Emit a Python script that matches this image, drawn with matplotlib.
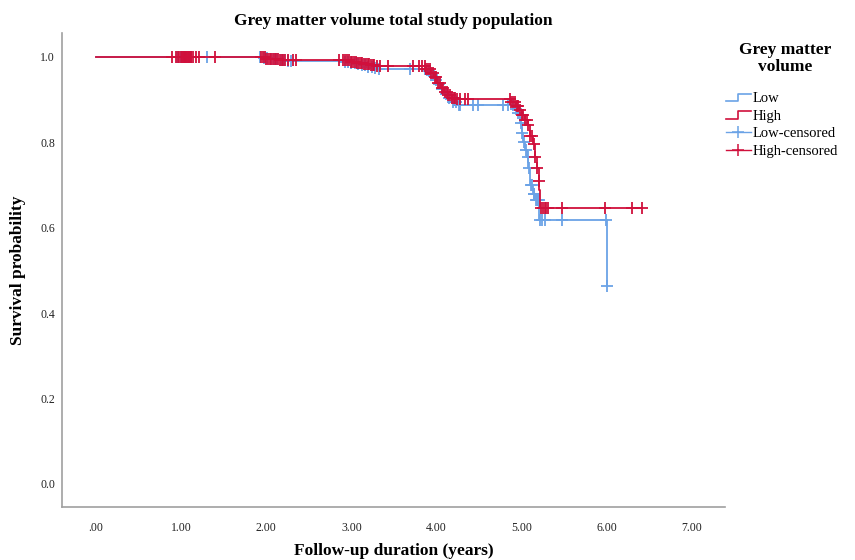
import numpy as np
import matplotlib
matplotlib.use("Agg")
import matplotlib.pyplot as plt
from matplotlib.lines import Line2D
from matplotlib.legend_handler import HandlerBase

plt.rcParams['font.family'] = ['Liberation Serif', 'DejaVu Serif']

# Kaplan-Meier steps: event times and survival after each event
low_times = [1.05, 1.95, 2.05, 2.15, 2.25, 2.90, 2.98, 3.05, 3.12, 3.18, 3.25, 3.32,
             3.88, 3.93, 3.97, 4.01, 4.05, 4.09, 4.13, 4.18, 4.24,
             4.92, 4.95, 4.98, 5.00, 5.02, 5.04, 5.06, 5.08, 5.10, 5.13, 5.16, 5.21, 6.00]
low_surv = [0.999, 0.997, 0.995, 0.993, 0.991, 0.989, 0.986, 0.983, 0.980, 0.977, 0.974, 0.972,
            0.966, 0.957, 0.947, 0.936, 0.924, 0.913, 0.903, 0.895, 0.888,
            0.878, 0.868, 0.845, 0.822, 0.800, 0.783, 0.766, 0.740, 0.700, 0.680, 0.665, 0.618, 0.464]

high_times = [1.08, 2.00, 2.15, 2.90, 2.98, 3.06, 3.14, 3.22, 3.30,
              3.88, 3.93, 3.97, 4.01, 4.05, 4.09, 4.13, 4.18, 4.24,
              4.88, 4.93, 4.97, 5.00, 5.04, 5.07, 5.10, 5.13, 5.16, 5.18, 5.20, 5.21, 5.22]
high_surv = [0.999, 0.996, 0.994, 0.992, 0.989, 0.986, 0.983, 0.980, 0.978,
             0.972, 0.963, 0.952, 0.940, 0.928, 0.918, 0.910, 0.904, 0.901,
             0.895, 0.885, 0.875, 0.865, 0.852, 0.840, 0.815, 0.795, 0.766, 0.740, 0.710, 0.688, 0.646]

# censored observations (times)
low_cens = [0.95, 1.00, 1.03, 1.06, 1.09, 1.12, 1.30, 1.93, 1.97, 2.01, 2.05, 2.09, 2.13, 2.17,
            2.21, 2.25, 2.29, 2.92, 2.96, 3.00, 3.04, 3.08, 3.12, 3.16, 3.20, 3.24, 3.28, 3.33,
            3.69, 3.87, 3.91, 3.95, 3.99, 4.03, 4.07, 4.11, 4.15, 4.19, 4.23, 4.26, 4.28, 4.43,
            4.49, 4.78, 4.84, 4.90, 4.93, 4.96, 4.99, 5.01, 5.03, 5.05, 5.07, 5.09, 5.11, 5.12,
            5.14, 5.15, 5.17, 5.18, 5.19, 5.20, 5.22, 5.24, 5.27, 5.47, 5.995, 6.005]
high_cens = [0.89, 0.94, 0.96, 0.98, 1.00, 1.01, 1.02, 1.03, 1.04, 1.05, 1.06, 1.07, 1.08, 1.09,
             1.10, 1.11, 1.12, 1.14, 1.17, 1.21, 1.40, 1.94, 1.96, 1.98, 2.00, 2.02, 2.04, 2.06,
             2.08, 2.10, 2.12, 2.14, 2.16, 2.18, 2.20, 2.22, 2.26, 2.31, 2.35, 2.86, 2.90, 2.93,
             2.95, 2.97, 2.99, 3.01, 3.03, 3.05, 3.07, 3.09, 3.11, 3.13, 3.15, 3.17, 3.19, 3.21,
             3.23, 3.25, 3.27, 3.30, 3.34, 3.43, 3.72, 3.80, 3.83, 3.86, 3.88, 3.90, 3.92, 3.94,
             3.96, 3.98, 4.00, 4.02, 4.04, 4.06, 4.08, 4.10, 4.12, 4.14, 4.16, 4.18, 4.20, 4.22,
             4.24, 4.28, 4.33, 4.37, 4.86, 4.88, 4.90, 4.92, 4.94, 4.96, 4.98, 5.00, 5.02, 5.04,
             5.06, 5.08, 5.10, 5.12, 5.14, 5.16, 5.18, 5.20, 5.23, 5.25, 5.27, 5.29, 5.31, 5.47,
             5.98, 6.30, 6.42]

xticks = [0, 1, 2, 3, 4, 5, 6, 7]
xtick_labels = [".00", "1.00", "2.00", "3.00", "4.00", "5.00", "6.00", "7.00"]
yticks = [0.0, 0.2, 0.4, 0.6, 0.8, 1.0]

blue = "#6BA3E6"
red = "#D0103C"


def surv_at(times, surv, t):
    idx = np.searchsorted(times, t, side="right")
    vals = np.concatenate([[1.0], surv])
    return vals[idx]


def step_xy(times, surv, t_end):
    x = np.concatenate([[0.0], times, [t_end]])
    y = np.concatenate([[1.0], surv, [surv[-1]]])
    return x, y


class StepHandler(HandlerBase):
    def create_artists(self, legend, orig_handle, xdescent, ydescent, width, height, fontsize, trans):
        xs = [0, width * 0.5, width * 0.5, width]
        ys = [height * 0.1, height * 0.1, height * 0.8, height * 0.8]
        ln = Line2D(xs, ys, color=orig_handle.get_color(), lw=1.2, transform=trans)
        return [ln]


fig = plt.figure(figsize=(8.55, 5.6), dpi=100)
ax = fig.add_axes([0.0725, 0.0946, 0.7755, 0.8464])

lx, ly = step_xy(low_times, low_surv, max(low_cens))
hx, hy = step_xy(high_times, high_surv, max(high_cens))
low_line, = ax.step(lx, ly, where="post", color=blue, lw=1.3, zorder=2)
high_line, = ax.step(hx, hy, where="post", color=red, lw=1.3, zorder=4)

lc = np.array(low_cens)
hc = np.array(high_cens)
ax.plot(lc, surv_at(low_times, low_surv, lc), ls="none", marker="+",
        ms=8.5, mew=1.3, color=blue, zorder=3)
ax.plot(hc, surv_at(high_times, high_surv, hc), ls="none", marker="+",
        ms=8.5, mew=1.3, color=red, zorder=5)

ax.set_xlim(-0.40, 7.39)
ax.set_ylim(-0.054, 1.056)
ax.set_xticks(xticks)
ax.set_xticklabels(xtick_labels)
ax.set_yticks(yticks)
ax.set_yticklabels(["%.1f" % v for v in yticks])
ax.tick_params(length=0, labelsize=8.5, colors="#222222")
ax.tick_params(axis="x", pad=11)
ax.tick_params(axis="y", pad=5)
for s in ["top", "right"]:
    ax.spines[s].set_visible(False)
for s in ["left", "bottom"]:
    ax.spines[s].set_color("#a0a0a0")
    ax.spines[s].set_linewidth(1.2)

ax.set_title("Grey matter volume total study population", fontsize=12.5, fontweight="bold", pad=6)
ax.set_xlabel("Follow-up duration (years)", fontsize=12.5, fontweight="bold", labelpad=6)
ax.set_ylabel("Survival probability", fontsize=12.5, fontweight="bold", labelpad=10)

# legend: title drawn separately, proxies for the censored entries
fig.text(0.918, 0.925, "Grey matter\nvolume", ha="center", va="top", fontsize=12.5,
         fontweight="bold", linespacing=1.1)
low_cm = Line2D([], [], color=blue, lw=1.0, marker="+", ms=9, mew=1.1)
high_cm = Line2D([], [], color=red, lw=1.0, marker="+", ms=9, mew=1.1)
leg = fig.legend([low_line, high_line, low_cm, high_cm],
                 ["Low", "High", "Low-censored", "High-censored"],
                 handler_map={low_line: StepHandler(), high_line: StepHandler()},
                 loc="upper left", bbox_to_anchor=(0.849, 0.836), frameon=False,
                 fontsize=10.5, handlelength=1.7, handletextpad=0.15,
                 labelspacing=0.3, borderaxespad=0, borderpad=0)

fig.savefig("out.png", dpi=100)
